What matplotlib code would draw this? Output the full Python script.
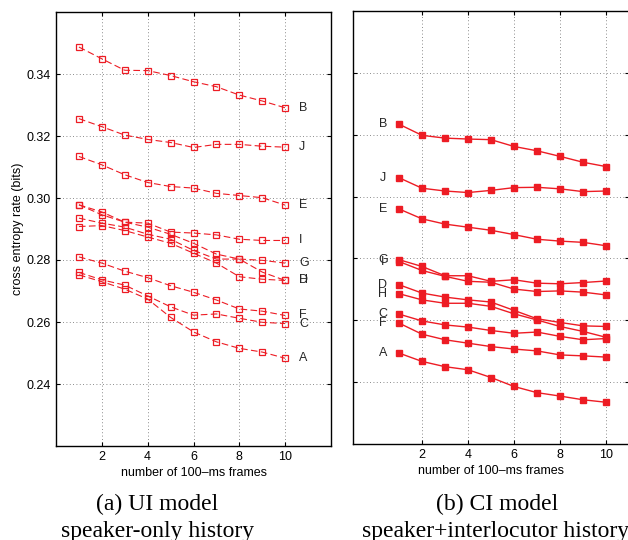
import numpy as np
import matplotlib
matplotlib.use("Agg")
import matplotlib.pyplot as plt
from matplotlib.ticker import FormatStrFormatter

frames = [1, 2, 3, 4, 5, 6, 7, 8, 9, 10]

# (a) UI model, speaker-only history
ui_A = [0.2752, 0.2730, 0.2706, 0.2674, 0.2615, 0.2568, 0.2536, 0.2515, 0.2503, 0.2483]
ui_B = [0.3487, 0.3449, 0.3412, 0.3411, 0.3395, 0.3375, 0.3359, 0.3332, 0.3313, 0.3291]
ui_C = [0.2760, 0.2736, 0.2719, 0.2684, 0.2649, 0.2622, 0.2626, 0.2612, 0.2599, 0.2595]
ui_D = [0.2935, 0.2919, 0.2906, 0.2883, 0.2867, 0.2831, 0.2803, 0.2803, 0.2761, 0.2734]
ui_E = [0.3134, 0.3107, 0.3075, 0.3050, 0.3037, 0.3032, 0.3015, 0.3008, 0.3001, 0.2977]
ui_F = [0.2810, 0.2790, 0.2764, 0.2743, 0.2717, 0.2696, 0.2671, 0.2642, 0.2635, 0.2621]
ui_G = [0.2978, 0.2946, 0.2922, 0.2906, 0.2883, 0.2854, 0.2819, 0.2803, 0.2799, 0.2790]
ui_H = [0.2908, 0.2911, 0.2895, 0.2874, 0.2854, 0.2822, 0.2790, 0.2746, 0.2738, 0.2734]
ui_I = [0.2978, 0.2955, 0.2922, 0.2919, 0.2890, 0.2887, 0.2881, 0.2867, 0.2863, 0.2863]
ui_J = [0.3256, 0.3230, 0.3203, 0.3189, 0.3179, 0.3163, 0.3173, 0.3173, 0.3167, 0.3164]

# (b) CI model, speaker+interlocutor history
ci_A = [0.2494, 0.2467, 0.2450, 0.2440, 0.2415, 0.2386, 0.2366, 0.2355, 0.2343, 0.2335]
ci_B = [0.3234, 0.3198, 0.3189, 0.3186, 0.3184, 0.3162, 0.3148, 0.3130, 0.3111, 0.3097]
ci_C = [0.2620, 0.2598, 0.2585, 0.2578, 0.2567, 0.2558, 0.2562, 0.2548, 0.2537, 0.2541]
ci_D = [0.2715, 0.2688, 0.2675, 0.2666, 0.2659, 0.2632, 0.2605, 0.2593, 0.2582, 0.2580]
ci_E = [0.2960, 0.2928, 0.2911, 0.2901, 0.2891, 0.2877, 0.2862, 0.2856, 0.2852, 0.2841]
ci_F = [0.2591, 0.2555, 0.2537, 0.2526, 0.2515, 0.2507, 0.2501, 0.2488, 0.2485, 0.2481]
ci_G = [0.2796, 0.2774, 0.2744, 0.2744, 0.2726, 0.2731, 0.2720, 0.2718, 0.2722, 0.2727]
ci_H = [0.2686, 0.2666, 0.2655, 0.2655, 0.2645, 0.2621, 0.2601, 0.2580, 0.2564, 0.2545]
ci_I = [0.2790, 0.2761, 0.2742, 0.2726, 0.2723, 0.2701, 0.2693, 0.2695, 0.2691, 0.2682]
ci_J = [0.3061, 0.3027, 0.3018, 0.3013, 0.3020, 0.3029, 0.3030, 0.3025, 0.3016, 0.3018]

names = ["A", "B", "C", "D", "E", "F", "G", "H", "I", "J"]
ui_series = [ui_A, ui_B, ui_C, ui_D, ui_E, ui_F, ui_G, ui_H, ui_I, ui_J]
ci_series = [ci_A, ci_B, ci_C, ci_D, ci_E, ci_F, ci_G, ci_H, ci_I, ci_J]

xticks = [2, 4, 6, 8, 10]
yticks = [0.24, 0.26, 0.28, 0.30, 0.32, 0.34]

plt.rcParams['font.family'] = ['Liberation Sans', 'DejaVu Sans']
red = (0.93, 0.11, 0.14)

fig = plt.figure(figsize=(6.28, 5.4), dpi=100)
axL = fig.add_axes([56/628, 1 - 446/540, 275/628, 434/540])
axR = fig.add_axes([353/628, 1 - 444/540, 276/628, 433/540])

def style(ax):
	ax.set_ylim(0.22, 0.36)
	ax.set_xticks(xticks)
	ax.set_yticks(yticks)
	ax.grid(True, linestyle=(0, (1, 3)), color='0.4', linewidth=0.6)
	ax.tick_params(direction='in', top=True, right=True, length=3, labelsize=9, width=0.8)
	for s in ax.spines.values():
		s.set_linewidth(1.0)
	ax.set_xlabel("number of 100\u2013ms frames", fontsize=9, labelpad=3)

for name, vals in zip(names, ui_series):
	axL.plot(frames, vals, color=red, linestyle='--', dashes=(6, 3), linewidth=0.8,
		marker='s', markersize=5, markerfacecolor='none', markeredgecolor=red, markeredgewidth=0.9)
	axL.text(10.6, vals[-1], name, ha='left', va='center', fontsize=9, color='0.15')
axL.set_xlim(0, 12)
style(axL)
axL.yaxis.set_major_formatter(FormatStrFormatter('%.2f'))
axL.set_ylabel("cross entropy rate (bits)", fontsize=9, labelpad=2)

for name, vals in zip(names, ci_series):
	axR.plot(frames, vals, color=red, linestyle='-', linewidth=1.0,
		marker='s', markersize=5, markerfacecolor=red, markeredgecolor=red)
	axR.text(0.3, vals[0], name, ha='center', va='center', fontsize=9, color='0.15')
axR.set_xlim(-1, 11)
style(axR)
axR.set_yticklabels([])

serif = 'Liberation Serif'
fig.text(157/628, 1 - 504/540, "(a) UI model", ha='center', va='center', fontsize=17, family=serif)
fig.text(158/628, 1 - 531/540, "speaker-only history", ha='center', va='center', fontsize=17, family=serif)
fig.text(497/628, 1 - 504/540, "(b) CI model", ha='center', va='center', fontsize=17, family=serif)
fig.text(362/628, 1 - 531/540, "speaker+interlocutor history", ha='left', va='center', fontsize=17, family=serif)

fig.savefig("out.png", dpi=100)
